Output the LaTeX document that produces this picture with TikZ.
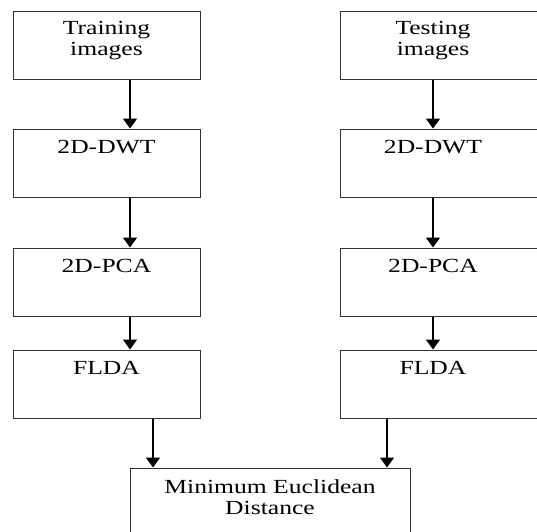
\documentclass[tikz,border=0pt]{standalone}
\usepackage{fontspec}
\setmainfont{Liberation Serif}[FakeStretch=1.28]
\usetikzlibrary{arrows.meta}

\begin{document}
\begin{tikzpicture}[x=1pt, y=-1pt,
    box/.style={rectangle, draw=black!80, line width=1pt, inner sep=0pt, minimum height=68pt},
    lbox/.style={box, minimum width=187pt},
    rbox/.style={box, minimum width=205pt},
    txt/.style={anchor=north, inner sep=0pt, align=center, font=\fontsize{20}{21}\selectfont},
    arrow/.style={-{Triangle[width=14pt,length=10pt]}, line width=1.6pt}
]
\useasboundingbox (0,0) rectangle (537,531);
\clip (0,0) rectangle (537,531);

% Cajas de entrenamiento
\node[lbox] (ltrn) at (106.5,45) {};
\node[lbox] (ldwt) at (106.5,163) {};
\node[lbox] (lpca) at (106.5,282) {};
\node[lbox] (lflda) at (106.5,384) {};

% Cajas de prueba
\node[rbox] (rtst) at (442.5,45) {};
\node[rbox] (rdwt) at (442.5,163) {};
\node[rbox] (rpca) at (442.5,282) {};
\node[rbox] (rflda) at (442.5,384) {};

% Caja final
\node[box, minimum width=280pt, minimum height=72pt] (med) at (270,504) {};

% Textos
\node[txt] (ltrnT) at ([yshift=-11pt]ltrn.north) {Training\\images};
\node[txt] (ldwtT) at ([yshift=-12pt]ldwt.north) {2D-DWT};
\node[txt] (lpcaT) at ([yshift=-12pt]lpca.north) {2D-PCA};
\node[txt] (lfldaT) at ([yshift=-12pt]lflda.north) {FLDA};
\node[txt] (rtstT) at ([xshift=-9.5pt,yshift=-11pt]rtst.north) {Testing\\images};
\node[txt] (rdwtT) at ([xshift=-9.5pt,yshift=-12pt]rdwt.north) {2D-DWT};
\node[txt] (rpcaT) at ([xshift=-9.5pt,yshift=-12pt]rpca.north) {2D-PCA};
\node[txt] (rfldaT) at ([xshift=-9.5pt,yshift=-12pt]rflda.north) {FLDA};
\node[txt] (medT) at ([yshift=-12pt]med.north) {Minimum Euclidean\\Distance};

% Flechas
\draw[arrow] ([xshift=23.5pt]ltrn.south) -- ([xshift=23.5pt]ldwt.north);
\draw[arrow] ([xshift=23.5pt]ldwt.south) -- ([xshift=23.5pt]lpca.north);
\draw[arrow] ([xshift=23.5pt]lpca.south) -- ([xshift=23.5pt]lflda.north);
\draw[arrow] ([xshift=-9.5pt]rtst.south) -- ([xshift=-9.5pt]rdwt.north);
\draw[arrow] ([xshift=-9.5pt]rdwt.south) -- ([xshift=-9.5pt]rpca.north);
\draw[arrow] ([xshift=-9.5pt]rpca.south) -- ([xshift=-9.5pt]rflda.north);
\draw[arrow] ([xshift=46.5pt]lflda.south) -- ([xshift=46.5pt]lflda.south |- med.north);
\draw[arrow] ([xshift=-55.5pt]rflda.south) -- ([xshift=-55.5pt]rflda.south |- med.north);

\end{tikzpicture}
\end{document}
